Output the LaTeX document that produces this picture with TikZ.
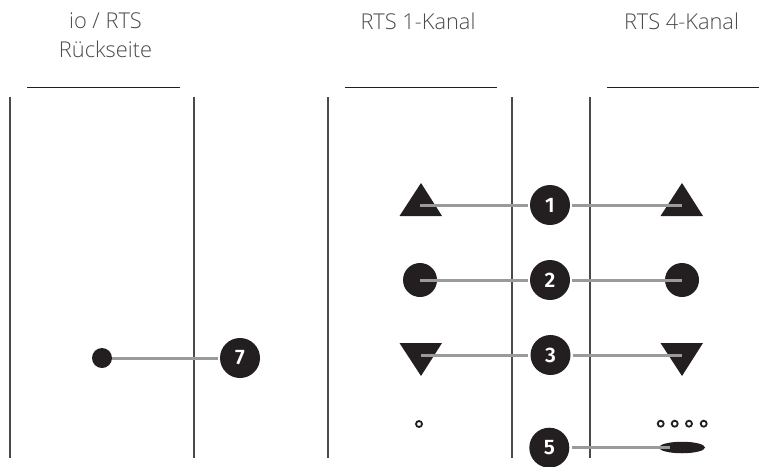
\documentclass[tikz,border=0pt]{standalone}
\usepackage{fontspec}
\usetikzlibrary{shapes.geometric}
\setmainfont{Open Sans Light}
\newfontfamily\numfont{Fira Sans SemiBold}
\definecolor{ink}{HTML}{231F20}
\definecolor{lead}{HTML}{9A9A9C}
\definecolor{rule}{HTML}{4A4A4C}
\definecolor{capt}{HTML}{4A4A4C}
\tikzset{
  numdot/.style={circle,fill=ink,draw=none,minimum size=40pt,inner sep=0pt,text=white,font=\numfont\fontsize{21pt}{22pt}\selectfont},
  solidtri/.style={fill=ink,draw=none},
  solidball/.style={circle,fill=ink,draw=none,inner sep=0pt},
  hole/.style={circle,draw=ink,line width=1.8pt,fill=white,minimum size=6pt,inner sep=0pt},
  pad/.style={ellipse,fill=ink,draw=none,minimum width=46pt,minimum height=11.5pt,inner sep=0pt},
  leadline/.style={draw=lead,line width=3pt},
  vrule/.style={draw=rule,line width=1.2pt},
  hrule/.style={draw=ink,line width=1pt},
  captext/.style={text=capt,align=center,font=\fontsize{21.8pt}{29pt}\selectfont}
}
\begin{document}
\begin{tikzpicture}[x=1pt,y=-1pt]
\useasboundingbox (0,0) rectangle (775,466);
% captions
\node[captext] (capA) at (105.5,35) {io / RTS\\Rückseite};
\node[captext] (capB) at (418,21) {RTS 1-Kanal};
\node[captext] (capC) at (681.5,21) {RTS 4-Kanal};
% rules
\draw[hrule] (27,87) -- (180,87);
\draw[hrule] (345,87) -- (497,87);
\draw[hrule] (607,87) -- (759,87);
\foreach \x in {10,194,328,512,590} \draw[vrule] (\x,97) -- (\x,458);
% shapes
\fill[solidtri] (421,183) -- (442,216) -- (399.5,216) -- cycle;
\fill[solidtri] (682,183) -- (703,216) -- (660.5,216) -- cycle;
\fill[solidtri] (421,376) -- (442,343) -- (399.5,343) -- cycle;
\fill[solidtri] (682,376) -- (703,343) -- (660.5,343) -- cycle;
\node[solidball,minimum size=34pt] (ballL) at (420,280) {};
\node[solidball,minimum size=34pt] (ballR) at (682,280) {};
\node[solidball,minimum size=20pt] (ballB) at (102,358) {};
\node[hole] (hA) at (419,424) {};
\node[hole] (h1) at (660.7,423.7) {};
\node[hole] (h2) at (674.7,423.7) {};
\node[hole] (h3) at (689,423.7) {};
\node[hole] (h4) at (703.7,423.7) {};
\node[pad] (padR) at (682,447.5) {};
% numbered dots
\node[numdot] (n1) at (550,205) {1};
\node[numdot] (n2) at (550,280) {2};
\node[numdot] (n3) at (550.5,355) {3};
\node[numdot] (n5) at (549.3,447.7) {5};
\node[numdot] (n7) at (240,358) {7};
% connector ends
\coordinate (e1L) at (420,205);
\coordinate (e1R) at (682,205);
\coordinate (e3L) at (421,355);
\coordinate (e3R) at (682,355);
\coordinate (e5) at (670,447.7);
% connectors
\draw[leadline] (n1.west) ++(-2,0) -- (e1L);
\draw[leadline] (n1.east) ++(2,0) -- (e1R);
\draw[leadline] (n2.west) ++(-2,0) -- (ballL.center);
\draw[leadline] (n2.east) ++(2,0) -- (ballR.center);
\draw[leadline] (n3.west) ++(-2,0) -- (e3L);
\draw[leadline] (n3.east) ++(2,0) -- (e3R);
\draw[leadline] (n5.east) ++(2,0) -- (e5);
\draw[leadline] (n7.west) ++(-2,0) -- (ballB.east);
\end{tikzpicture}
\end{document}
